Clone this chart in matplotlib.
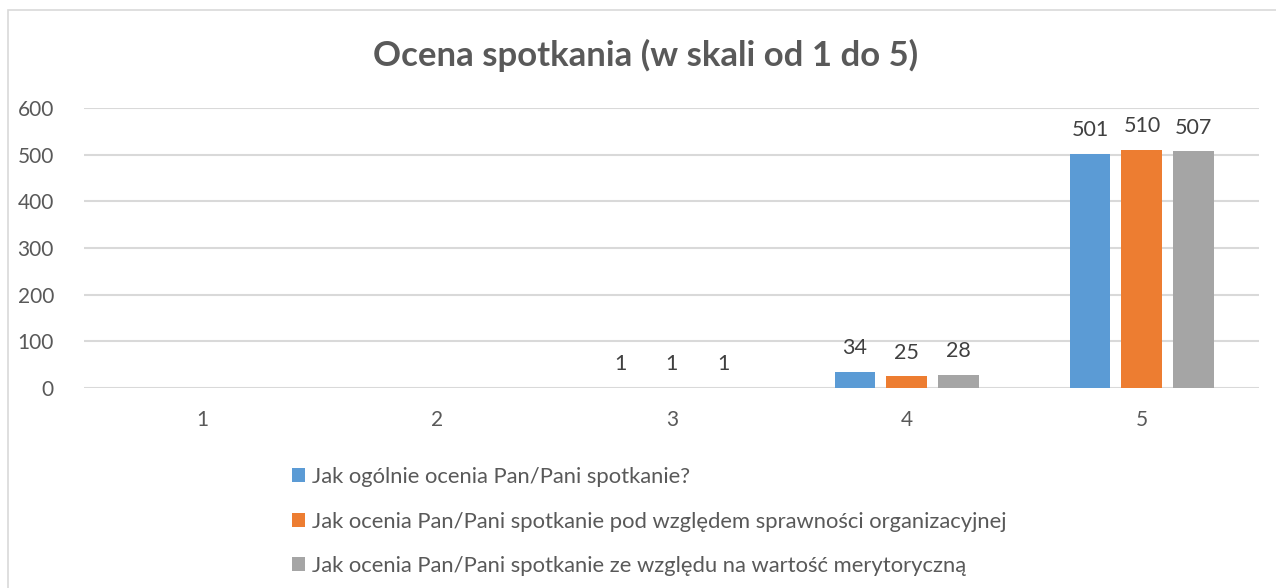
import matplotlib.pyplot as plt
from matplotlib.patches import Rectangle
import numpy as np

plt.rcParams['font.family'] = ['Lato', 'DejaVu Sans']

categories = ['1', '2', '3', '4', '5']
ogolnie = [0, 0, 1, 34, 501]
organizacja = [0, 0, 1, 25, 510]
merytoryka = [0, 0, 1, 28, 507]
series_names = [
    'Jak ogólnie ocenia Pan/Pani spotkanie?',
    'Jak ocenia Pan/Pani spotkanie pod względem sprawności organizacyjnej',
    'Jak ocenia Pan/Pani spotkanie ze względu na wartość merytoryczną',
]
colors = ['#5b9bd5', '#ed7d31', '#a5a5a5']
text_color = '#595959'

fig = plt.figure(figsize=(12.76, 5.88), dpi=100)
ax = fig.add_axes([0.0662, 0.340, 0.9208, 0.4763])

# chart frame, cut by the picture on the right and bottom
fig.patches.append(Rectangle((8 / 1276, -0.05), 1.1, 1 - 10 / 588 + 0.05,
                             transform=fig.transFigure, fill=False,
                             edgecolor='#d9d9d9', linewidth=1.2))

x = np.arange(len(categories))
width = 0.174
offset = 0.221
for i, vals in enumerate([ogolnie, organizacja, merytoryka]):
    bars = ax.bar(x + (i - 1) * offset, vals, width, color=colors[i],
                  label=series_names[i], zorder=3)
    labels = [str(v) if v else '' for v in vals]
    ax.bar_label(bars, labels=labels, padding=10, fontsize=15.5, color='#404040')

ax.set_xlim(-0.5, len(categories) - 0.5)
ax.set_ylim(0, 600)
ax.set_yticks(range(0, 601, 100))
ax.set_xticks(x)
ax.set_xticklabels(categories)
ax.yaxis.grid(True, color='#d9d9d9', linewidth=1.5, zorder=0)
ax.tick_params(length=0, labelsize=15, labelcolor=text_color)
ax.tick_params(axis='x', pad=16)
ax.tick_params(axis='y', pad=22)
for s in ax.spines.values():
    s.set_visible(False)

fig.text(0.506, 0.905, 'Ocena spotkania (w skali od 1 do 5)', ha='center',
         va='center', fontsize=25, fontweight='bold', color=text_color)

leg = fig.legend(loc='upper left', bbox_to_anchor=(281 / 1276, 1 - 456 / 588),
                 frameon=False, fontsize=15.8, labelcolor=text_color,
                 handlelength=0.6, handleheight=0.6, handletextpad=0.3,
                 labelspacing=1.12, borderpad=0)

fig.savefig('out.png', dpi=100)
